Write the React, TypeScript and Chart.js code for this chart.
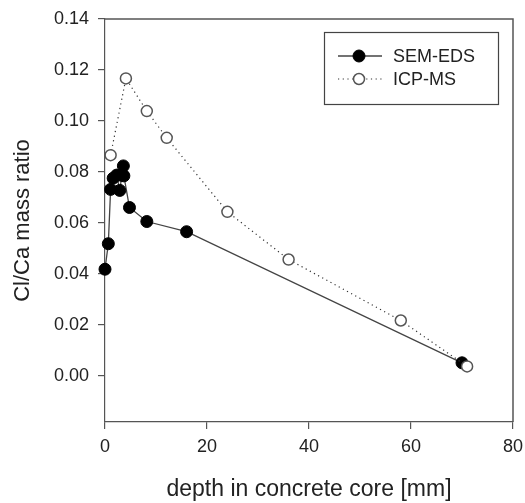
import React, { useEffect, useRef } from "react";
import { Chart, registerables } from "chart.js";

Chart.register(...registerables);

const semDepth = [0, 0.65, 1.1, 1.6, 2.3, 2.9, 3.3, 3.6, 3.7, 4.8, 8.2, 16.0, 70.0];
const semRatio = [0.0419, 0.0519, 0.0732, 0.0776, 0.0788, 0.0728, 0.0787, 0.0824, 0.0785, 0.0661, 0.0606, 0.0566, 0.0052];

const icpDepth = [1.1, 4.1, 8.2, 12.1, 24.0, 36.0, 58.0, 71.0];
const icpRatio = [0.0866, 0.1167, 0.1039, 0.0934, 0.0644, 0.0457, 0.0218, 0.0038];

const yTicks = [0, 0.02, 0.04, 0.06, 0.08, 0.1, 0.12, 0.14];
const xTicks = [0, 20, 40, 60, 80];

const seriesNames = ["SEM-EDS", "ICP-MS"];
const xTitle = "depth in concrete core [mm]";
const yTitle = "Cl/Ca mass ratio";

const FONT = "'Liberation Sans', Arial, sans-serif";
const TEXT = "#222";
const AXIS = "#555";

export default function App() {
  const ref = useRef<HTMLCanvasElement | null>(null);

  useEffect(() => {
    if (!ref.current) return;

    const legendPlugin = {
      id: "boxLegend",
      afterDraw(chart: any) {
        const { ctx, chartArea } = chart;
        ctx.save();
        ctx.setLineDash([]);
        // frame: top and right sides
        ctx.strokeStyle = AXIS;
        ctx.lineWidth = 1.5;
        ctx.beginPath();
        ctx.moveTo(chartArea.left, chartArea.top);
        ctx.lineTo(chartArea.right, chartArea.top);
        ctx.lineTo(chartArea.right, chartArea.bottom);
        ctx.stroke();

        const lx = 324.5, ly = 32.5, lw = 174, lh = 72;
        ctx.fillStyle = "#fff";
        ctx.fillRect(lx, ly, lw, lh);
        ctx.strokeStyle = "#444";
        ctx.lineWidth = 1.2;
        ctx.strokeRect(lx, ly, lw, lh);

        const rows = [56, 79];
        const ds = chart.data.datasets;
        const order = [1, 0];
        order.forEach((di, r) => {
          const d = ds[di];
          const y = rows[r];
          ctx.save();
          ctx.strokeStyle = d.borderColor;
          ctx.lineWidth = d.borderWidth;
          ctx.setLineDash(d.borderDash || []);
          ctx.beginPath();
          ctx.moveTo(338, y);
          ctx.lineTo(382, y);
          ctx.stroke();
          ctx.restore();
          ctx.beginPath();
          ctx.arc(359, y, d.pointRadius, 0, Math.PI * 2);
          ctx.fillStyle = d.pointBackgroundColor;
          ctx.fill();
          ctx.strokeStyle = d.pointBorderColor;
          ctx.lineWidth = d.pointBorderWidth;
          ctx.stroke();
          ctx.fillStyle = TEXT;
          ctx.font = `18px ${FONT}`;
          ctx.textBaseline = "middle";
          ctx.textAlign = "left";
          ctx.fillText(d.label, 393, y + 1);
        });
        ctx.restore();
      },
    };

    const chart = new Chart(ref.current, {
      type: "scatter",
      data: {
        datasets: [
          {
            label: seriesNames[1],
            data: icpDepth.map((x, i) => ({ x, y: icpRatio[i] })),
            showLine: true,
            borderColor: "#333",
            borderWidth: 1.2,
            borderDash: [1.2, 3.5],
            pointRadius: 5.5,
            pointBackgroundColor: "#fff",
            pointBorderColor: "#555",
            pointBorderWidth: 1.5,
            clip: false,
            order: 0,
          } as any,
          {
            label: seriesNames[0],
            data: semDepth.map((x, i) => ({ x, y: semRatio[i] })),
            showLine: true,
            borderColor: "#444",
            borderWidth: 1.3,
            pointRadius: 6,
            pointBackgroundColor: "#000",
            pointBorderColor: "#000",
            pointBorderWidth: 1,
            clip: false,
            order: 1,
          } as any,
        ],
      },
      options: {
        animation: false,
        responsive: false,
        maintainAspectRatio: false,
        layout: { padding: { top: 19, right: 12, left: 0, bottom: 0 } },
        plugins: {
          legend: { display: false },
          tooltip: { enabled: false },
        },
        scales: {
          x: {
            type: "linear",
            position: "bottom",
            min: 0,
            max: 80,
            afterBuildTicks: (s: any) => {
              s.ticks = xTicks.map((v) => ({ value: v }));
            },
            afterFit: (s: any) => {
              s.height = 81;
              s.paddingLeft = 0;
              s.paddingRight = 0;
            },
            grid: {
              drawOnChartArea: false,
              drawTicks: true,
              tickLength: 7,
              color: AXIS,
              lineWidth: 1.2,
            },
            border: { display: true, color: AXIS, width: 1.2 },
            ticks: {
              color: TEXT,
              font: { family: FONT, size: 18 },
              padding: 7,
              maxRotation: 0,
              callback: (v: any) => String(v),
            },
            title: {
              display: true,
              text: xTitle,
              color: TEXT,
              font: { family: FONT, size: 23 },
              padding: { top: 0, bottom: 0 },
            },
          },
          y: {
            type: "linear",
            position: "left",
            min: -0.018,
            max: 0.14,
            afterBuildTicks: (s: any) => {
              s.ticks = yTicks.map((v) => ({ value: v }));
            },
            afterFit: (s: any) => {
              s.width = 105;
              s.paddingTop = 0;
              s.paddingBottom = 0;
            },
            grid: {
              drawOnChartArea: false,
              drawTicks: true,
              tickLength: 7,
              color: AXIS,
              lineWidth: 1.2,
            },
            border: { display: true, color: AXIS, width: 1.2 },
            ticks: {
              color: TEXT,
              font: { family: FONT, size: 18 },
              padding: 9,
              callback: (v: any) => Number(v).toFixed(2),
            },
            title: {
              display: true,
              text: yTitle,
              color: TEXT,
              font: { family: FONT, size: 22 },
              padding: { top: 10, bottom: 0 },
            },
          },
        },
      },
      plugins: [legendPlugin],
    });

    return () => chart.destroy();
  }, []);

  return (
    <div style={{ position: "fixed", left: 0, top: 0, width: 525, height: 503, background: "#fff" }}>
      <canvas ref={ref} width={525} height={503} style={{ display: "block", width: 525, height: 503 }} />
    </div>
  );
}
